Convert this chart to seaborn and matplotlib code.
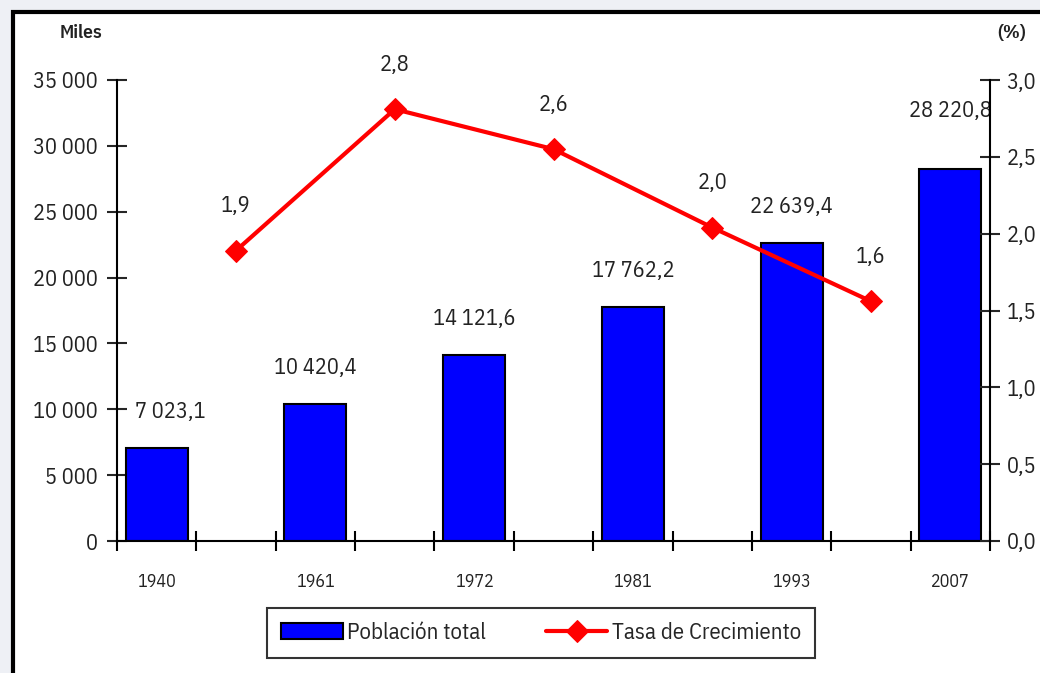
import matplotlib.pyplot as plt
from matplotlib.patches import Rectangle
import numpy as np
import seaborn as sns


years = ["1940", "1961", "1972", "1981", "1993", "2007"]
poblacion = [7023.1, 10420.4, 14121.6, 17762.2, 22639.4, 28220.8]
poblacion_labels = ["7 023,1", "10 420,4", "14 121,6", "17 762,2", "22 639,4", "28 220,8"]
tasa = [1.89, 2.81, 2.55, 2.04, 1.56]
tasa_labels = ["1,9", "2,8", "2,6", "2,0", "1,6"]

COLOR_BAR = "#0000FF"
COLOR_LINE = "#FF0000"
COLOR_TEXT = "#222222"
FONT = ["IBM Plex Sans Condensed", "Liberation Sans", "DejaVu Sans"]
FS = 16

sns.set_theme(style="ticks")
plt.rcParams["font.family"] = FONT

W, H = 1040, 673
fig = plt.figure(figsize=(W / 100, H / 100), dpi=100, facecolor="#eef0f5")

# white panel with black frame (top + left visible, rest cut by image edge)
fig.patches.append(
    Rectangle((13 / W, -0.05), 1.2, 1 - 12 / H + 0.05, transform=fig.transFigure,
              facecolor="white", edgecolor="black", linewidth=3, zorder=-1)
)

ax = fig.add_axes([117 / W, 1 - 541 / H, (990 - 117) / W, (541 - 80) / H])
ax.set_facecolor("none")

# bars on even slots, growth rates in between
bar_pos = np.arange(len(years)) * 2
line_pos = np.arange(len(tasa)) * 2 + 1

sns.barplot(x=bar_pos, y=poblacion, native_scale=True, width=0.39,
            color=COLOR_BAR, saturation=1, edgecolor="black", linewidth=1.5,
            label="Población total", ax=ax)
if ax.get_legend() is not None:
    ax.get_legend().remove()

ax.set_xlim(-0.5, 10.5)
ax.set_ylim(0, 35000)

ax2 = ax.twinx()
sns.lineplot(x=line_pos, y=tasa, color=COLOR_LINE, linewidth=3, marker="D",
             markersize=11.5, markeredgecolor=COLOR_LINE,
             label="Tasa de Crecimiento", ax=ax2, legend=False)
ax2.set_ylim(0, 3)
ax2.set_xlim(-0.5, 10.5)

# axes / ticks
ax.set_xticks(np.arange(-0.5, 11, 1))
ax.set_xticklabels([])
ax.set_xticks(bar_pos, minor=True)
ax.set_xticklabels(years, minor=True, fontsize=13)
ax.tick_params(axis="x", which="major", direction="inout", length=14, width=1.5, color="black")
ax.tick_params(axis="x", which="minor", length=0, pad=23, labelcolor=COLOR_TEXT)

yt = np.arange(0, 35001, 5000)
ax.set_yticks(yt)
ax.set_yticklabels([f"{v:,}".replace(",", " ") for v in yt], fontsize=FS)
ax.tick_params(axis="y", direction="inout", length=14, width=1.5, pad=7, labelcolor=COLOR_TEXT)

yt2 = np.arange(0, 3.01, 0.5)
ax2.set_yticks(yt2)
ax2.set_yticklabels([f"{v:.1f}".replace(".", ",") for v in yt2], fontsize=FS)
ax2.tick_params(axis="y", direction="inout", length=14, width=1.5, pad=5, labelcolor=COLOR_TEXT)

for a in (ax, ax2):
    a.spines["top"].set_visible(False)
    for s in ("left", "right", "bottom"):
        a.spines[s].set_linewidth(1.5)
        a.spines[s].set_color("black")
    a.set_xlabel("")
    a.set_ylabel("")
ax.spines["right"].set_visible(False)
ax2.spines["left"].set_visible(False)
ax2.spines["bottom"].set_visible(False)

# value labels
last = len(poblacion) - 1
for i, (x, v) in enumerate(zip(bar_pos, poblacion)):
    dy = 42 if i == last else 26
    dx = 10 if i == 0 else 0
    ax.annotate(poblacion_labels[i], (x, v), xytext=(dx, dy), textcoords="offset points",
                ha="center", va="center", fontsize=FS, color=COLOR_TEXT)
for x, v, lab in zip(line_pos, tasa, tasa_labels):
    ax2.annotate(lab, (x, v), xytext=(0, 32), textcoords="offset points",
                 ha="center", va="center", fontsize=FS, color=COLOR_TEXT)

fig.text(81 / W, 1 - 33 / H, "Miles", ha="center", va="center", fontsize=14,
         fontweight="semibold", color=COLOR_TEXT)
fig.text(1012 / W, 1 - 33 / H, "(%)", ha="center", va="center", fontsize=14,
         fontweight="semibold", color=COLOR_TEXT)

h1, l1 = ax.get_legend_handles_labels()
h2, l2 = ax2.get_legend_handles_labels()
leg = fig.legend(h1 + h2, l1 + l2, loc="center", bbox_to_anchor=(541 / W, 1 - 633 / H),
                 ncol=2, frameon=True, fancybox=False, fontsize=FS + 0.5, handlelength=2.7,
                 columnspacing=2.6, borderpad=0.6, handletextpad=0.2, borderaxespad=0)
leg.get_frame().set_edgecolor("black")
leg.get_frame().set_linewidth(1.5)
leg.get_frame().set_facecolor("white")

fig.savefig("out.png", dpi=100, facecolor=fig.get_facecolor())
